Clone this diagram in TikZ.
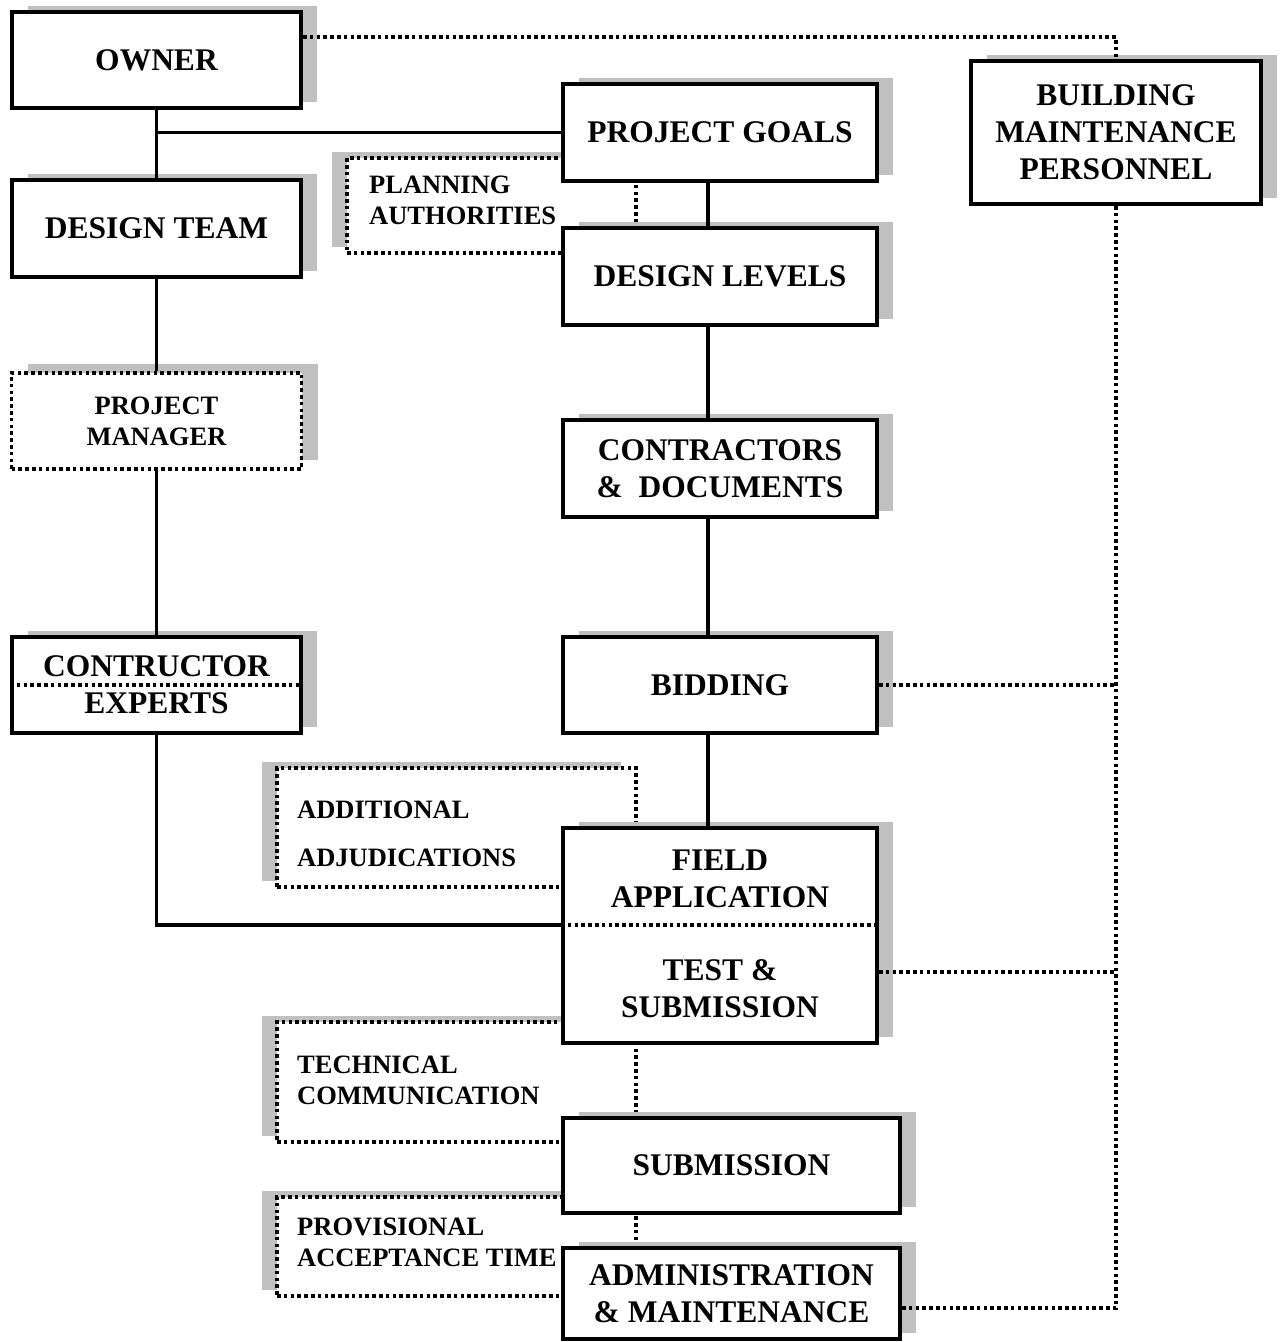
\documentclass[tikz,border=0pt]{standalone}
\usepackage{fontspec}
\setmainfont{Liberation Serif}
\usetikzlibrary{shadows}
\definecolor{shadowgray}{RGB}{192,192,192}
\tikzset{
  boxfont/.style={font=\fontsize{31.5pt}{37pt}\selectfont\bfseries},
  notefont/.style={font=\fontsize{26.5pt}{31pt}\selectfont\bfseries},
  dotline/.style={line width=3.6pt, dash pattern=on 3.6pt off 3.2pt},
  link/.style={line width=3.2pt},
  mainbox/.style={draw, line width=4pt, fill=white, inner sep=0pt, align=center, boxfont,
    drop shadow={shadow xshift=16pt, shadow yshift=6pt, fill=shadowgray, opacity=1}},
  pmbox/.style={draw, dotline, fill=white, inner sep=0pt, align=center, notefont,
    drop shadow={shadow xshift=16pt, shadow yshift=9pt, fill=shadowgray, opacity=1}},
  notebox/.style={draw, dotline, fill=white, inner sep=0pt,
    drop shadow={shadow xshift=-15pt, shadow yshift=6pt, fill=shadowgray, opacity=1}},
  notetext/.style={notefont, align=left, anchor=west, inner sep=0pt},
  boxtext/.style={boxfont, align=center, inner sep=0pt},
}
\begin{document}
\begin{tikzpicture}[x=1pt, y=-1pt]
\useasboundingbox (0,0) rectangle (1283,1342);

% side notes (drawn first, the main boxes partly cover them)
\node[notebox, minimum width=289pt, minimum height=95pt]  (plan) at (491.5,205.5) {};
\node[notetext] (plantxt) at (369,200) {PLANNING\\AUTHORITIES};
\node[notebox, minimum width=359pt, minimum height=119pt] (addit) at (456.5,827.5) {};
\node[notetext, font=\fontsize{26.5pt}{48pt}\selectfont\bfseries] (addittxt) at (297,834) {ADDITIONAL\\ADJUDICATIONS};
\node[notebox, minimum width=359pt, minimum height=120pt] (tech) at (456.5,1082) {};
\node[notetext] (techtxt) at (297,1080.5) {TECHNICAL\\COMMUNICATION};
\node[notebox, minimum width=359pt, minimum height=99pt]  (prov) at (456.5,1246.5) {};
\node[notetext] (provtxt) at (297,1242.5) {PROVISIONAL\\ACCEPTANCE TIME};

% left column
\node[mainbox, minimum width=289pt, minimum height=96pt] (owner)   at (156.5,60)  {OWNER};
\node[mainbox, minimum width=289pt, minimum height=97pt] (design)  at (156.5,228.5) {DESIGN TEAM};
\node[pmbox,   minimum width=290pt, minimum height=96pt] (pm)      at (156.5,421) {PROJECT\\MANAGER};
\node[mainbox, minimum width=289pt, minimum height=96pt] (experts) at (156.5,685) {CONTRUCTOR\\EXPERTS};

% middle column
\node[mainbox, minimum width=314pt, minimum height=97pt] (goals)     at (720,132.5) {PROJECT GOALS};
\node[mainbox, minimum width=314pt, minimum height=97pt] (levels)    at (720,276.5) {DESIGN LEVELS};
\node[mainbox, minimum width=314pt, minimum height=97pt] (contracts) at (720,468.5) {CONTRACTORS\\\&\ \ DOCUMENTS};
\node[mainbox, minimum width=314pt, minimum height=96pt] (bidding)   at (720,685) {BIDDING};
\node[mainbox, minimum width=314pt, minimum height=215pt] (fieldtest) at (720,935.5) {};
\node[boxtext] (fieldtxt) at (720,878.5) {FIELD\\APPLICATION};
\node[boxtext] (testtxt)  at (720,989) {TEST \&\\SUBMISSION};
\coordinate (fsplit) at (720,925);
\node[mainbox, minimum width=337pt, minimum height=95pt] (submit) at (731.5,1165.5) {SUBMISSION};
\node[mainbox, minimum width=337pt, minimum height=91pt] (admin)  at (731.5,1293.5) {ADMINISTRATION\\\& MAINTENANCE};

% right column
\node[mainbox, minimum width=290pt, minimum height=143pt] (bmp) at (1116,132.5) {BUILDING\\MAINTENANCE\\PERSONNEL};

% solid links
\draw[link] (owner) -- (design);
\draw[link] (owner.south |- goals.west) -- (goals.west);
\draw[link] (design) -- (pm);
\draw[link] (pm) -- (experts);
\draw[link] (experts.south) |- (fieldtest.west |- fsplit);
\foreach \a/\b in {goals/levels, levels/contracts, contracts/bidding, bidding/fieldtest}
  \draw[link] ([xshift=-12pt]\a.south) -- ([xshift=-12pt]\b.north);

% dotted links
\draw[dotline] (experts.west) -- (experts.east);
\draw[dotline] (fieldtest.west |- fsplit) -- (fieldtest.east |- fsplit);
\draw[dotline] ([yshift=23pt]owner.east) -| (bmp.north);
\draw[dotline] (bmp.south) |- ([yshift=-14.5pt]admin.east);
\draw[dotline] (bidding.east) -- (bidding.east -| bmp.south);
\draw[dotline] ([yshift=-36.5pt]fieldtest.east) -- ([yshift=-36.5pt]fieldtest.east -| bmp.south);
\end{tikzpicture}
\end{document}
